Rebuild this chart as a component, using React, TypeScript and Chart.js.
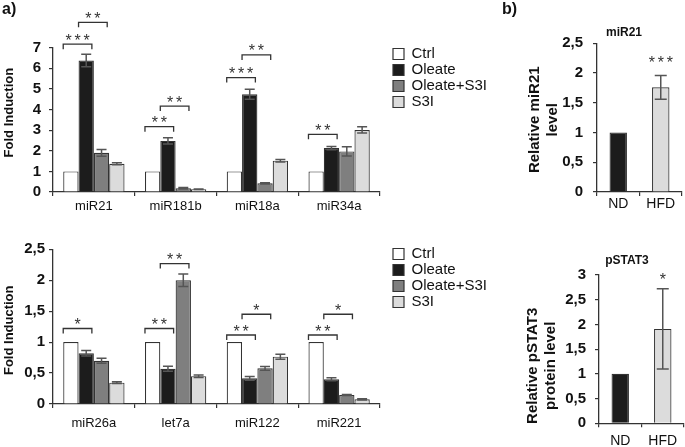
import { useEffect, useRef } from 'react';
import { Chart, registerables } from 'chart.js';

Chart.register(...registerables);

const FONT = "'Liberation Sans', Arial, Helvetica, sans-serif";
Chart.defaults.font.family = FONT;

// ---------- Panel a (top) ----------
const seriesNames = ['Ctrl', 'Oleate', 'Oleate+S3I', 'S3I'];
const topGroups = ['miR21', 'miR181b', 'miR18a', 'miR34a'];
const topTicks = [0, 1, 2, 3, 4, 5, 6, 7];
const topCtrl = [1, 1, 1, 1];
const topOleate = [6.38, 2.48, 4.74, 2.13];
const topOleateS3I = [1.9, 0.18, 0.42, 1.97];
const topS3I = [1.37, 0.13, 1.52, 3.01];
const topCtrlErr = [0, 0, 0, 0];
const topOleateErr = [0.3, 0.15, 0.24, 0.08];
const topOleateS3IErr = [0.16, 0.04, 0.03, 0.22];
const topS3IErr = [0.05, 0.01, 0.06, 0.15];
const topBrackets = [
  { group: 0, from: 0, to: 1, level: 7.17, stars: 3 },
  { group: 0, from: 1, to: 2, level: 8.23, stars: 2 },
  { group: 1, from: 0, to: 1, level: 3.17, stars: 2 },
  { group: 1, from: 1, to: 2, level: 4.17, stars: 2 },
  { group: 2, from: 0, to: 1, level: 5.55, stars: 3 },
  { group: 2, from: 1, to: 2, level: 6.65, stars: 2 },
  { group: 3, from: 0, to: 1, level: 2.8, stars: 2 },
];

// ---------- Panel a (bottom) ----------
const botGroups = ['miR26a', 'let7a', 'miR122', 'miR221'];
const botTicks = [0, 0.5, 1, 1.5, 2, 2.5];
const botCtrl = [1, 1, 1, 1];
const botOleate = [0.82, 0.57, 0.415, 0.4];
const botOleateS3I = [0.7, 2.0, 0.577, 0.145];
const botS3I = [0.345, 0.45, 0.765, 0.075];
const botCtrlErr = [0, 0, 0, 0];
const botOleateErr = [0.045, 0.04, 0.03, 0.025];
const botOleateS3IErr = [0.04, 0.1, 0.03, 0.01];
const botS3IErr = [0.015, 0.02, 0.04, 0.01];
const botBrackets = [
  { group: 0, from: 0, to: 1, level: 1.22, stars: 1 },
  { group: 1, from: 0, to: 1, level: 1.22, stars: 2 },
  { group: 1, from: 1, to: 2, level: 2.27, stars: 2 },
  { group: 2, from: 0, to: 1, level: 1.115, stars: 2 },
  { group: 2, from: 1, to: 2, level: 1.45, stars: 1 },
  { group: 3, from: 0, to: 1, level: 1.115, stars: 2 },
  { group: 3, from: 1, to: 2, level: 1.45, stars: 1 },
];

// ---------- Panel b ----------
const dietGroups = ['ND', 'HFD'];
const mirTicks = [0, 0.5, 1, 1.5, 2, 2.5];
const mirLevel = [1.0, 1.76];
const mirErr = [0, 0.2];
const mirStars = [{ group: 1, level: 2.11, stars: 3 }];
const pstatTicks = [0, 0.5, 1, 1.5, 2, 2.5, 3];
const pstatLevel = [1.0, 1.91];
const pstatErr = [0, 0.81];
const pstatStars = [{ group: 1, level: 2.83, stars: 1 }];

const seriesColors = ['#ffffff', '#1c1c1c', '#7f7f7f', '#dcdcdc'];
const dietColors = ['#1c1c1c', '#dcdcdc'];

const AXIS = '#333333';
const TEXT = '#111111';

const fmt = (v: any) => String(Math.round(Number(v) * 10) / 10).replace('.', ',');

type Bracket = { group: number; from?: number; to?: number; level: number; stars: number };

function annotPlugin(errors: number[][], brackets: Bracket[], cap: number, title?: { text: string; x: number; y: number }) {
  return {
    id: 'annot',
    afterDatasetsDraw(chart: any) {
      const ctx = chart.ctx;
      const ys = chart.scales.y;
      ctx.save();
      ctx.strokeStyle = '#555555';
      ctx.lineWidth = 1.5;
      chart.data.datasets.forEach((ds: any, i: number) => {
        const meta = chart.getDatasetMeta(i);
        (ds.data as number[]).forEach((v, j) => {
          const e = errors[i] ? errors[i][j] : 0;
          if (!e) return;
          const el: any = meta.data[j];
          const x = el.x;
          const yt = ys.getPixelForValue(v + e);
          const yb = ys.getPixelForValue(v - e);
          ctx.beginPath();
          ctx.moveTo(x, yt);
          ctx.lineTo(x, yb);
          ctx.moveTo(x - cap, yt);
          ctx.lineTo(x + cap, yt);
          ctx.moveTo(x - cap, yb);
          ctx.lineTo(x + cap, yb);
          ctx.stroke();
        });
      });
      ctx.restore();
    },
    afterDraw(chart: any) {
      const ctx = chart.ctx;
      const ys = chart.scales.y;
      ctx.save();
      ctx.strokeStyle = AXIS;
      ctx.lineWidth = 1.3;
      ctx.fillStyle = '#333333';
      ctx.font = `16px ${FONT}`;
      ctx.textAlign = 'center';
      ctx.textBaseline = 'alphabetic';
      brackets.forEach((b) => {
        const y = ys.getPixelForValue(b.level);
        let cx: number;
        if (b.from !== undefined && b.to !== undefined) {
          const a: any = chart.getDatasetMeta(b.from).data[b.group];
          const c: any = chart.getDatasetMeta(b.to).data[b.group];
          const x1 = a.x - a.width / 2;
          const x2 = c.x + c.width / 2 - 2;
          ctx.beginPath();
          ctx.moveTo(x1, y + 5);
          ctx.lineTo(x1, y);
          ctx.lineTo(x2, y);
          ctx.lineTo(x2, y + 5);
          ctx.stroke();
          cx = (x1 + x2) / 2;
        } else {
          const el: any = chart.getDatasetMeta(0).data[b.group];
          cx = el.x;
        }
        for (let k = 0; k < b.stars; k++) {
          const sx = cx + (k - (b.stars - 1) / 2) * 9;
          ctx.fillText('*', sx, y + 1.5);
        }
      });
      if (title) {
        ctx.fillStyle = TEXT;
        ctx.font = `bold 12px ${FONT}`;
        ctx.textBaseline = 'middle';
        ctx.fillText(title.text, title.x, title.y);
      }
      ctx.restore();
    },
  };
}

const fixedTicks = (values: number[]) => (s: any) => {
  s.ticks = values.map((v) => ({ value: v }));
};

type GroupedParams = {
  labels: string[];
  series: number[][];
  errors: number[][];
  brackets: Bracket[];
  ticks: number[];
  padTop: number;
  topGap: number;
  xHeight: number;
  xPad: number;
  yPad: number;
  yTitle: string;
};

function groupedConfig(p: GroupedParams): any {
  return {
    type: 'bar',
    data: {
      labels: p.labels,
      datasets: seriesNames.map((name, i) => ({
        label: name,
        data: p.series[i],
        backgroundColor: seriesColors[i],
        borderColor: AXIS,
        borderWidth: 1.2,
        categoryPercentage: 0.75,
        barPercentage: 1,
      })),
    },
    options: {
      responsive: false,
      animation: false,
      devicePixelRatio: 1,
      events: [],
      layout: { padding: { top: p.padTop, left: 0, right: 0, bottom: 0 } },
      plugins: {
        tooltip: { enabled: false },
        legend: {
          position: 'right',
          align: 'start',
          fullSize: true,
          maxWidth: 100,
          labels: { boxWidth: 11, boxHeight: 11, padding: 1, color: TEXT, font: { size: 15 } },
        },
      },
      scales: {
        x: {
          grid: { display: true, drawOnChartArea: false, drawTicks: true, tickLength: 4, color: AXIS, lineWidth: 1.2, offset: true },
          border: { display: true, color: AXIS, width: 1.3 },
          ticks: { color: TEXT, font: { size: 13 }, padding: p.xPad, autoSkip: false, maxRotation: 0 },
          afterFit: (s: any) => { s.height = p.xHeight; },
        },
        xTop: {
          type: 'linear',
          position: 'top',
          display: true,
          grid: { display: false },
          border: { display: false },
          ticks: { display: false },
          afterFit: (s: any) => { s.height = p.topGap; },
        },
        y: {
          min: 0,
          max: p.ticks[p.ticks.length - 1],
          grid: { display: true, drawOnChartArea: false, drawTicks: true, tickLength: 4, color: AXIS, lineWidth: 1.2 },
          border: { display: true, color: AXIS, width: 1.3 },
          ticks: { color: TEXT, font: { size: 15, weight: 'bold' }, padding: p.yPad, callback: fmt, autoSkip: false },
          afterBuildTicks: fixedTicks(p.ticks),
          title: { display: true, text: p.yTitle, color: TEXT, font: { size: 13, weight: 'bold' }, padding: { top: 2, bottom: 0 } },
          afterFit: (s: any) => { s.width = 53; },
        },
        y2: {
          type: 'linear',
          position: 'right',
          display: true,
          grid: { display: false },
          border: { display: false },
          ticks: { display: false },
          afterFit: (s: any) => { s.width = 12; },
        },
      },
    },
    plugins: [annotPlugin(p.errors, p.brackets, 5)],
  };
}

type DietParams = {
  values: number[];
  errors: number[];
  stars: Bracket[];
  ticks: number[];
  padLeft: number;
  padTop: number;
  padRight: number;
  yWidth: number;
  xHeight: number;
  xPad: number;
  yPad: number;
  yTitle: string[];
  title: { text: string; x: number; y: number };
};

function dietConfig(p: DietParams): any {
  return {
    type: 'bar',
    data: {
      labels: dietGroups,
      datasets: [
        {
          label: 'level',
          data: p.values,
          backgroundColor: dietColors,
          borderColor: AXIS,
          borderWidth: 1.2,
          categoryPercentage: 1,
          barPercentage: 0.41,
        },
      ],
    },
    options: {
      responsive: false,
      animation: false,
      devicePixelRatio: 1,
      events: [],
      layout: { padding: { top: p.padTop, left: p.padLeft, right: p.padRight, bottom: 0 } },
      plugins: { tooltip: { enabled: false }, legend: { display: false } },
      scales: {
        x: {
          grid: { display: true, drawOnChartArea: false, drawTicks: true, tickLength: 4, color: AXIS, lineWidth: 1.2, offset: true },
          border: { display: true, color: AXIS, width: 1.3 },
          ticks: { color: TEXT, font: { size: 14 }, padding: p.xPad, autoSkip: false, maxRotation: 0 },
          afterFit: (s: any) => { s.height = p.xHeight; },
        },
        y: {
          min: 0,
          max: p.ticks[p.ticks.length - 1],
          grid: { display: true, drawOnChartArea: false, drawTicks: true, tickLength: 4, color: AXIS, lineWidth: 1.2 },
          border: { display: true, color: AXIS, width: 1.3 },
          ticks: { color: TEXT, font: { size: 15, weight: 'bold' }, padding: p.yPad, callback: fmt, autoSkip: false },
          afterBuildTicks: fixedTicks(p.ticks),
          title: { display: true, text: p.yTitle, color: TEXT, font: { size: 15, weight: 'bold' }, padding: { top: 0, bottom: 0 } },
          afterFit: (s: any) => { s.width = p.yWidth; },
        },
      },
    },
    plugins: [annotPlugin([p.errors], p.stars, 6, p.title)],
  };
}

function ChartCanvas({ left, top, width, height, make }: { left: number; top: number; width: number; height: number; make: () => any }) {
  const ref = useRef<HTMLCanvasElement>(null);
  useEffect(() => {
    const chart = new Chart(ref.current as HTMLCanvasElement, make());
    return () => chart.destroy();
  }, []);
  return (
    <canvas
      ref={ref}
      width={width}
      height={height}
      style={{ position: 'absolute', left, top, width, height }}
    />
  );
}

const NB = '\u00A0';

export default function App() {
  return (
    <div style={{ position: 'fixed', left: 0, top: 0, width: 685, height: 447, background: '#ffffff', overflow: 'hidden' }}>
      <ChartCanvas
        left={0}
        top={0}
        width={492}
        height={222}
        make={() =>
          groupedConfig({
            labels: topGroups,
            series: [topCtrl, topOleate, topOleateS3I, topS3I],
            errors: [topCtrlErr, topOleateErr, topOleateS3IErr, topS3IErr],
            brackets: topBrackets,
            ticks: topTicks,
            padTop: 45.5,
            topGap: 2.2,
            xHeight: 30,
            xPad: 3,
            yPad: 8,
            yTitle: NB.repeat(4) + 'Fold Induction',
          })
        }
      />
      <ChartCanvas
        left={0}
        top={222}
        width={492}
        height={225}
        make={() =>
          groupedConfig({
            labels: botGroups,
            series: [botCtrl, botOleate, botOleateS3I, botS3I],
            errors: [botCtrlErr, botOleateErr, botOleateS3IErr, botS3IErr],
            brackets: botBrackets,
            ticks: botTicks,
            padTop: 23.5,
            topGap: 3.8,
            xHeight: 43,
            xPad: 8,
            yPad: 4,
            yTitle: 'Fold Induction' + NB.repeat(2),
          })
        }
      />
      <ChartCanvas
        left={500}
        top={0}
        width={185}
        height={222}
        make={() =>
          dietConfig({
            values: mirLevel,
            errors: mirErr,
            stars: mirStars,
            ticks: mirTicks,
            padLeft: 26,
            padTop: 43.3,
            padRight: 3,
            yWidth: 71,
            xHeight: 30,
            xPad: 0,
            yPad: 10,
            yTitle: ['Relative miR21' + NB, 'level' + NB],
            title: { text: 'miR21', x: 124, y: 32.5 },
          })
        }
      />
      <ChartCanvas
        left={500}
        top={222}
        width={185}
        height={225}
        make={() =>
          dietConfig({
            values: pstatLevel,
            errors: pstatErr,
            stars: pstatStars,
            ticks: pstatTicks,
            padLeft: 24.3,
            padTop: 53,
            padRight: 1,
            yWidth: 74.7,
            xHeight: 23.7,
            xPad: 5,
            yPad: 9,
            yTitle: ['Relative pSTAT3' + NB.repeat(8), 'protein level' + NB.repeat(8)],
            title: { text: 'pSTAT3', x: 127, y: 39 },
          })
        }
      />
      <div style={{ position: 'absolute', left: 2, top: 0, font: `bold 16px ${FONT}`, lineHeight: '18px', color: TEXT }}>a)</div>
      <div style={{ position: 'absolute', left: 502, top: 0, font: `bold 16px ${FONT}`, lineHeight: '18px', color: TEXT }}>b)</div>
    </div>
  );
}
